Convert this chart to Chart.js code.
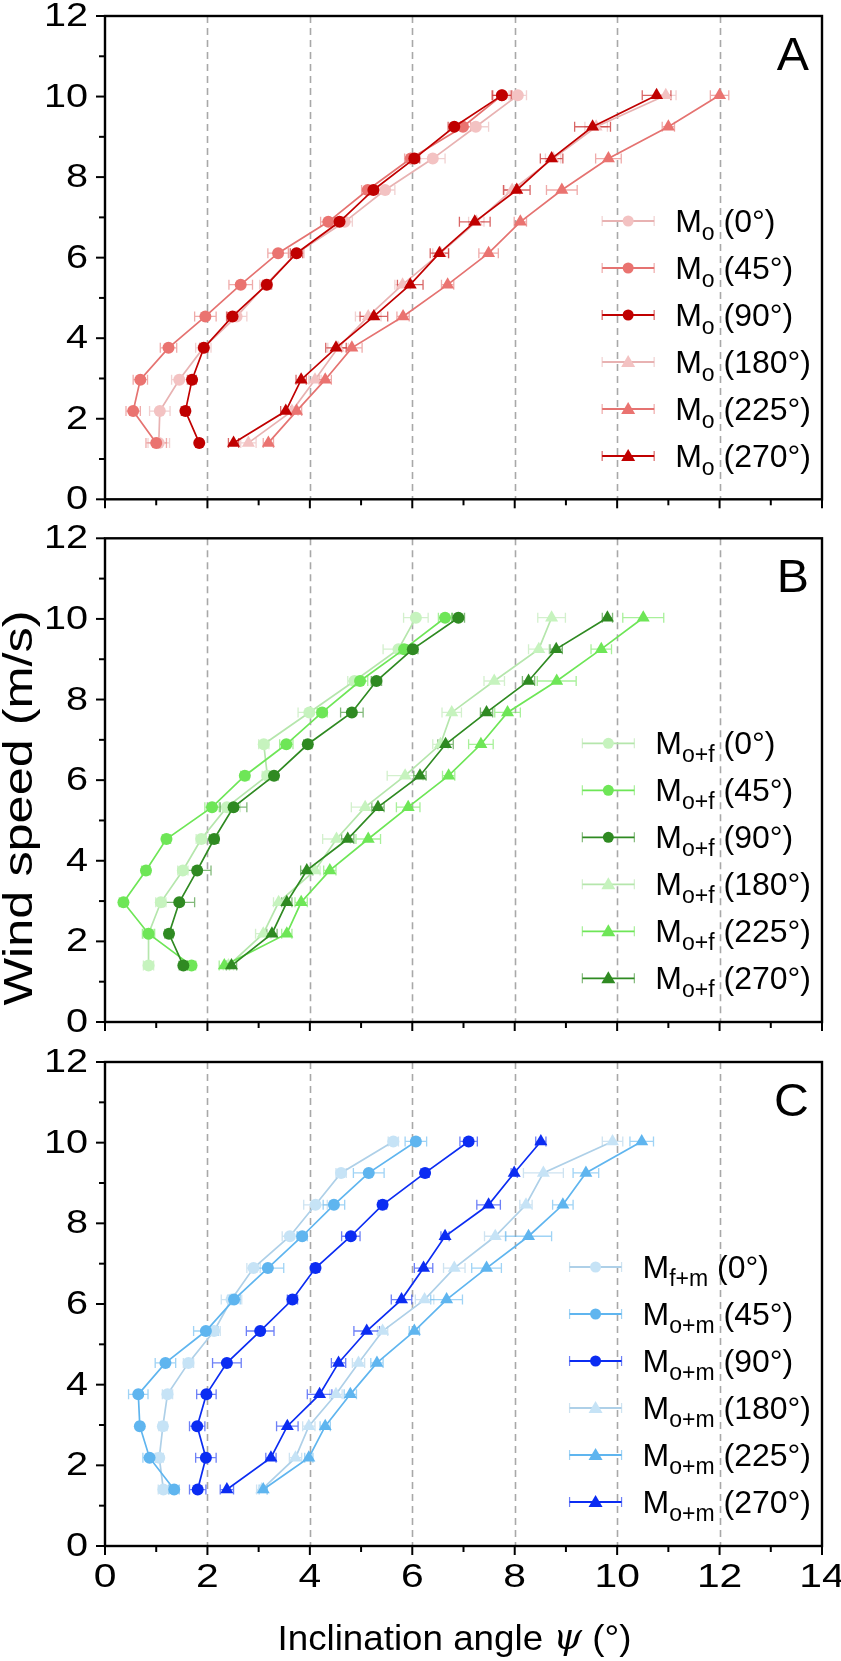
<!DOCTYPE html>
<html>
<head>
<meta charset="utf-8">
<script src="https://cdn.jsdelivr.net/npm/chart.js@4.4.1/dist/chart.umd.min.js"></script>
<style>
	html, body { margin: 0; padding: 0; background: #fff; }
	body { width: 841px; height: 1661px; position: relative; overflow: hidden; }
	canvas { position: absolute; left: 0; }
</style>
</head>
<body>
<canvas id="panelA" width="841" height="522" style="top:0px"></canvas>
<canvas id="panelB" width="841" height="520" style="top:522px"></canvas>
<canvas id="panelC" width="841" height="619" style="top:1042px"></canvas>
<script>
// wind speed rows (same for every series)
const windSpeed = [1.40, 2.19, 2.97, 3.76, 4.54, 5.33, 6.11, 6.89, 7.68, 8.46, 9.25, 10.03]
const xTicks = [0, 2, 4, 6, 8, 10, 12, 14]
const yTicks = [0, 2, 4, 6, 8, 10, 12]
const angleLabels = ["(0°)", "(45°)", "(90°)", "(180°)", "(225°)", "(270°)"]

// panel A - M_o
const a0 = [1.05, 1.07, 1.45, 1.92, 2.57, 3.14, 3.74, 4.68, 5.47, 6.40, 7.24, 8.06]
const a45 = [1.00, 0.55, 0.69, 1.24, 1.96, 2.65, 3.38, 4.36, 5.13, 5.97, 6.99, 7.75]
const a90 = [1.84, 1.57, 1.70, 1.93, 2.49, 3.16, 3.74, 4.58, 5.24, 6.04, 6.82, 7.75]
const a180 = [2.80, 3.65, 4.10, 4.55, 5.14, 5.81, 6.55, 7.25, 7.95, 8.75, 9.59, 10.95]
const a225 = [3.19, 3.74, 4.30, 4.82, 5.82, 6.69, 7.49, 8.11, 8.92, 9.83, 11.00, 12.00]
const a270 = [2.51, 3.53, 3.83, 4.51, 5.25, 5.96, 6.53, 7.22, 8.04, 8.72, 9.52, 10.77]
const a0Err = [0.21, 0.20, 0.15, 0.15, 0.20, 0.12, 0.15, 0.15, 0.19, 0.24, 0.25, 0.17]
const a45Err = [0.20, 0.14, 0.14, 0.16, 0.21, 0.23, 0.20, 0.15, 0.12, 0.12, 0.15, 0.20]
const a90Err = [0.06, 0.08, 0.08, 0.08, 0.11, 0.08, 0.12, 0.10, 0.10, 0.10, 0.12, 0.18]
const a180Err = [0.15, 0.12, 0.12, 0.20, 0.25, 0.15, 0.15, 0.15, 0.15, 0.15, 0.22, 0.20]
const a225Err = [0.10, 0.10, 0.12, 0.20, 0.12, 0.12, 0.19, 0.12, 0.30, 0.25, 0.12, 0.18]
const a270Err = [0.10, 0.10, 0.10, 0.20, 0.27, 0.25, 0.18, 0.30, 0.26, 0.22, 0.35, 0.28]

// panel B - M_o+f
const b0 = [0.85, 0.85, 1.09, 1.52, 1.88, 2.38, 3.17, 3.10, 3.99, 4.87, 5.73, 6.07]
const b45 = [1.69, 0.85, 0.36, 0.80, 1.20, 2.09, 2.73, 3.54, 4.24, 4.98, 5.84, 6.64]
const b90 = [1.53, 1.25, 1.45, 1.80, 2.13, 2.51, 3.30, 3.96, 4.82, 5.30, 6.01, 6.90]
const b180 = [2.41, 3.09, 3.39, 4.10, 4.52, 5.08, 5.86, 6.55, 6.77, 7.60, 8.47, 8.72]
const b225 = [2.33, 3.55, 3.83, 4.39, 5.14, 5.92, 6.71, 7.34, 7.86, 8.82, 9.69, 10.51]
const b270 = [2.47, 3.26, 3.55, 3.94, 4.74, 5.33, 6.15, 6.65, 7.45, 8.27, 8.81, 9.81]
const b0Err = [0.10, 0.10, 0.10, 0.10, 0.10, 0.26, 0.10, 0.10, 0.22, 0.13, 0.30, 0.24]
const b45Err = [0.08, 0.12, 0.08, 0.08, 0.08, 0.14, 0.08, 0.13, 0.10, 0.15, 0.12, 0.13]
const b90Err = [0.08, 0.08, 0.30, 0.27, 0.09, 0.26, 0.08, 0.08, 0.22, 0.10, 0.10, 0.12]
const b180Err = [0.10, 0.15, 0.10, 0.10, 0.27, 0.27, 0.35, 0.15, 0.19, 0.20, 0.20, 0.27]
const b225Err = [0.10, 0.10, 0.12, 0.12, 0.24, 0.23, 0.12, 0.24, 0.25, 0.38, 0.20, 0.40]
const b270Err = [0.10, 0.10, 0.10, 0.12, 0.12, 0.12, 0.12, 0.15, 0.12, 0.12, 0.12, 0.10]

// panel C - M_o+m
const c0 = [1.14, 1.06, 1.13, 1.22, 1.63, 2.13, 2.47, 2.90, 3.61, 4.11, 4.61, 5.63]
const c45 = [1.35, 0.87, 0.68, 0.65, 1.18, 1.97, 2.52, 3.18, 3.85, 4.47, 5.15, 6.07]
const c90 = [1.81, 1.97, 1.80, 1.98, 2.38, 3.03, 3.66, 4.11, 4.80, 5.42, 6.25, 7.10]
const c180 = [3.06, 3.72, 3.98, 4.51, 4.95, 5.42, 6.24, 6.82, 7.62, 8.22, 8.56, 9.91]
const c225 = [3.09, 3.98, 4.30, 4.79, 5.31, 6.04, 6.67, 7.45, 8.27, 8.94, 9.39, 10.48]
const c270 = [2.38, 3.24, 3.56, 4.19, 4.56, 5.11, 5.79, 6.22, 6.64, 7.49, 7.99, 8.51]
const c0Err = [0.10, 0.08, 0.08, 0.10, 0.10, 0.12, 0.20, 0.13, 0.15, 0.23, 0.10, 0.10]
const c45Err = [0.10, 0.13, 0.06, 0.19, 0.20, 0.24, 0.12, 0.31, 0.10, 0.21, 0.30, 0.21]
const c90Err = [0.16, 0.20, 0.15, 0.19, 0.28, 0.27, 0.10, 0.08, 0.18, 0.08, 0.08, 0.17]
const c180Err = [0.10, 0.12, 0.12, 0.12, 0.12, 0.10, 0.18, 0.21, 0.21, 0.12, 0.39, 0.20]
const c225Err = [0.08, 0.08, 0.10, 0.12, 0.12, 0.10, 0.31, 0.29, 0.45, 0.20, 0.25, 0.23]
const c270Err = [0.13, 0.10, 0.21, 0.24, 0.14, 0.25, 0.20, 0.18, 0.08, 0.23, 0.06, 0.10]

// colours: marker light / mid / dark, plus the line colour of each
const redColors = ["#f3c2c2", "#ea7370", "#c00000"]
const redLines = ["#e8b2b2", "#e57371", "#c00000"]
const greenColors = ["#c6f3be", "#6ee657", "#2f8a22"]
const greenLines = ["#b5e6ac", "#6ee657", "#2f8a22"]
const blueColors = ["#c6e3f6", "#5fb5ef", "#0b2cf2"]
const blueLines = ["#aed0e8", "#5fb5ef", "#0b2cf2"]

const FONT = "'Liberation Sans', Arial, Helvetica, sans-serif"

function buildSeries(values, errs, colors, lines, subs) {
	return values.map((vals, i) => ({
		label: "M" + subs[i] + " " + angleLabels[i],
		sub: subs[i],
		data: vals.map((v, j) => ({ x: v, y: windSpeed[j], err: errs[i][j] })),
		color: colors[i % 3],
		line: lines[i % 3],
		shape: i < 3 ? "circle" : "triangle"
	}))
}

// text stretched sideways a little, the source figure is wider than tall
function stretchedText(ctx, text, x, y, sx) {
	ctx.save()
	ctx.translate(x, y)
	ctx.scale(sx, 1)
	ctx.fillText(text, 0, 0)
	ctx.restore()
}

// frame, dashed grid, ticks, error bars, legend, panel letter
const panelPlugin = {
	id: "panelPlugin",
	beforeDatasetsDraw(chart) {
		const { ctx, chartArea: area, scales: { x, y } } = chart
		ctx.save()
		// dashed vertical grid
		ctx.strokeStyle = "#a8a8a8"
		ctx.lineWidth = 1.6
		ctx.setLineDash([7, 5])
		for (let v = 2; v <= 12; v += 2) {
			const px = Math.round(x.getPixelForValue(v)) + 0.5
			ctx.beginPath()
			ctx.moveTo(px, area.top)
			ctx.lineTo(px, area.bottom)
			ctx.stroke()
		}
		ctx.setLineDash([])
		// horizontal error bars
		chart.data.datasets.forEach((ds) => {
			ctx.strokeStyle = ds.errColor
			ctx.globalAlpha = 0.6
			ctx.lineWidth = 1.3
			ds.data.forEach((p) => {
				const x1 = x.getPixelForValue(p.x - p.err)
				const x2 = x.getPixelForValue(p.x + p.err)
				const py = y.getPixelForValue(p.y)
				ctx.beginPath()
				ctx.moveTo(x1, py); ctx.lineTo(x2, py)
				ctx.moveTo(x1, py - 5); ctx.lineTo(x1, py + 5)
				ctx.moveTo(x2, py - 5); ctx.lineTo(x2, py + 5)
				ctx.stroke()
			})
		})
		ctx.restore()
	},
	afterDraw(chart, args, opts) {
		const { ctx, chartArea: area, scales: { x, y } } = chart
		ctx.save()
		// frame
		ctx.strokeStyle = "#000"
		ctx.lineWidth = 2.4
		ctx.strokeRect(area.left, area.top, area.right - area.left, area.bottom - area.top)
		// x ticks (outward), major every 2
		ctx.lineWidth = 2
		for (let v = 0; v <= 14; v++) {
			const px = x.getPixelForValue(v)
			const len = v % 2 === 0 ? 9 : 6
			ctx.beginPath()
			ctx.moveTo(px, area.bottom)
			ctx.lineTo(px, area.bottom + len)
			ctx.stroke()
		}
		for (let v = 0; v <= 12; v++) {
			const py = y.getPixelForValue(v)
			const len = v % 2 === 0 ? 9 : 6
			ctx.beginPath()
			ctx.moveTo(area.left, py)
			ctx.lineTo(area.left - len, py)
			ctx.stroke()
		}

		// tick labels
		ctx.fillStyle = "#000"
		ctx.font = "33px " + FONT
		ctx.textAlign = "right"
		ctx.textBaseline = "middle"
		yTicks.forEach((v) => {
			stretchedText(ctx, String(v), area.left - 17, y.getPixelForValue(v) + 1, 1.2)
		})
		if (opts.xLabels) {
			ctx.font = "34px " + FONT
			ctx.textAlign = "center"
			ctx.textBaseline = "top"
			xTicks.forEach((v) => {
				stretchedText(ctx, String(v), x.getPixelForValue(v), area.bottom + 15, 1.2)
			})
		}

		// legend on the right side
		const datasets = chart.data.datasets
		const bigFont = "32px " + FONT
		const subFont = "23px " + FONT
		let maxW = 0
		datasets.forEach((ds) => {
			ctx.font = bigFont
			let w = ctx.measureText("M").width
			ctx.font = subFont
			w += ctx.measureText(ds.sub).width
			ctx.font = bigFont
			w += ctx.measureText(" " + ds.angle).width
			maxW = Math.max(maxW, w)
		})
		const textX = area.right - 11 - maxW
		const sampleMid = textX - 47
		datasets.forEach((ds, i) => {
			const ly = area.top + 205 + i * 47
			ctx.strokeStyle = ds.borderColor
			ctx.lineWidth = 1.8
			ctx.beginPath()
			ctx.moveTo(sampleMid - 26, ly)
			ctx.lineTo(sampleMid + 26, ly)
			ctx.stroke()
			ctx.globalAlpha = 0.6
			ctx.strokeStyle = ds.errColor
			ctx.lineWidth = 1.2
			ctx.beginPath()
			ctx.moveTo(sampleMid - 26, ly - 5); ctx.lineTo(sampleMid - 26, ly + 5)
			ctx.moveTo(sampleMid + 26, ly - 5); ctx.lineTo(sampleMid + 26, ly + 5)
			ctx.stroke()
			ctx.globalAlpha = 1
			ctx.fillStyle = ds.backgroundColor
			ctx.beginPath()
			if (ds.pointStyle === "circle") {
				ctx.arc(sampleMid, ly, 5.5, 0, Math.PI * 2)
			} else {
				ctx.moveTo(sampleMid, ly - 7)
				ctx.lineTo(sampleMid + 7, ly + 5)
				ctx.lineTo(sampleMid - 7, ly + 5)
				ctx.closePath()
			}
			ctx.fill()

			ctx.fillStyle = "#000"
			ctx.textBaseline = "alphabetic"
			ctx.textAlign = "left"
			const base = ly + 11
			let tx = textX
			ctx.font = bigFont
			ctx.fillText("M", tx, base)
			tx += ctx.measureText("M").width
			ctx.font = subFont
			ctx.fillText(ds.sub, tx, base + 8)
			tx += ctx.measureText(ds.sub).width
			ctx.font = bigFont
			ctx.fillText(" " + ds.angle, tx, base)
		})

		// panel letter
		ctx.font = "46px " + FONT
		ctx.textAlign = "right"
		ctx.textBaseline = "top"
		stretchedText(ctx, opts.letter, area.right - 13, area.top + 18, 1.05)

		// axis titles
		if (opts.yTitle) {
			ctx.save()
			ctx.translate(21, opts.yTitleY)
			ctx.rotate(-Math.PI / 2)
			ctx.scale(1.26, 1)
			ctx.font = "40px " + FONT
			ctx.textAlign = "center"
			ctx.textBaseline = "middle"
			ctx.fillText(opts.yTitle, 0, 0)
			ctx.restore()
		}
		if (opts.xTitle) {
			const XS = 1.05
			const parts = [["Inclination angle ", "35px " + FONT], ["ψ", "italic 35px 'DejaVu Serif', serif"], [" (°)", "35px " + FONT]]
			let total = 0
			parts.forEach((p) => { ctx.font = p[1]; total += ctx.measureText(p[0]).width * XS })
			let tx = (area.left + area.right) / 2 - 9 - total / 2
			ctx.textAlign = "left"
			ctx.textBaseline = "middle"
			parts.forEach((p) => {
				ctx.font = p[1]
				stretchedText(ctx, p[0], tx, area.bottom + 94, XS)
				tx += ctx.measureText(p[0]).width * XS
			})
		}
		ctx.restore()
	}
}

function makePanel(canvasId, series, cfg) {
	const datasets = series.map((s, i) => ({
		label: s.label,
		sub: s.sub,
		angle: angleLabels[i],
		data: s.data,
		showLine: true,
		borderColor: s.line,
		backgroundColor: s.color,
		errColor: s.line,
		borderWidth: 1.7,
		pointStyle: s.shape,
		pointRadius: s.shape === "circle" ? 6 : 7.5,
		pointBorderWidth: 0,
		order: 6 - i
	}))
	const ctx = document.getElementById(canvasId).getContext("2d")
	return new Chart(ctx, {
		type: "scatter",
		data: { datasets: datasets },
		options: {
			responsive: false,
			animation: false,
			devicePixelRatio: 1,
			layout: { padding: { top: cfg.top, right: 19, left: 0, bottom: 0 } },
			plugins: {
				legend: { display: false },
				tooltip: { enabled: false },
				panelPlugin: { letter: cfg.letter, yTitle: cfg.yTitle, yTitleY: cfg.yTitleY, xTitle: cfg.xTitle, xLabels: cfg.xLabels }
			},
			scales: {
				x: {
					type: "linear",
					min: 0, max: 14,
					grid: { display: false, drawTicks: false },
					border: { display: false },
					ticks: { display: false, stepSize: 2 },
					afterFit: (scale) => {
						scale.height = cfg.xHeight
						scale.paddingLeft = 0
						scale.paddingRight = 0
					}
				},
				y: {
					type: "linear",
					min: 0, max: 12,
					grid: { display: false, drawTicks: false },
					border: { display: false },
					ticks: { display: false, stepSize: 2 },
					afterFit: (scale) => {
						scale.width = 105
						scale.paddingTop = 0
						scale.paddingBottom = 0
					}
				}
			}
		},
		plugins: [panelPlugin]
	})
}

document.addEventListener("DOMContentLoaded", function () {
	const seriesA = buildSeries([a0, a45, a90, a180, a225, a270],
		[a0Err, a45Err, a90Err, a180Err, a225Err, a270Err], redColors, redLines, ["o", "o", "o", "o", "o", "o"])
	const seriesB = buildSeries([b0, b45, b90, b180, b225, b270],
		[b0Err, b45Err, b90Err, b180Err, b225Err, b270Err], greenColors, greenLines, ["o+f", "o+f", "o+f", "o+f", "o+f", "o+f"])
	const seriesC = buildSeries([c0, c45, c90, c180, c225, c270],
		[c0Err, c45Err, c90Err, c180Err, c225Err, c270Err], blueColors, blueLines, ["f+m", "o+m", "o+m", "o+m", "o+m", "o+m"])

	makePanel("panelA", seriesA, { letter: "A", top: 16, xHeight: 22.7, xLabels: false })
	makePanel("panelB", seriesB, { letter: "B", top: 16.3, xHeight: 20, xLabels: false, yTitle: "Wind speed (m/s)", yTitleY: 286 })
	makePanel("panelC", seriesC, { letter: "C", top: 20, xHeight: 115, xLabels: true, xTitle: true })
})
</script>
</body>
</html>
